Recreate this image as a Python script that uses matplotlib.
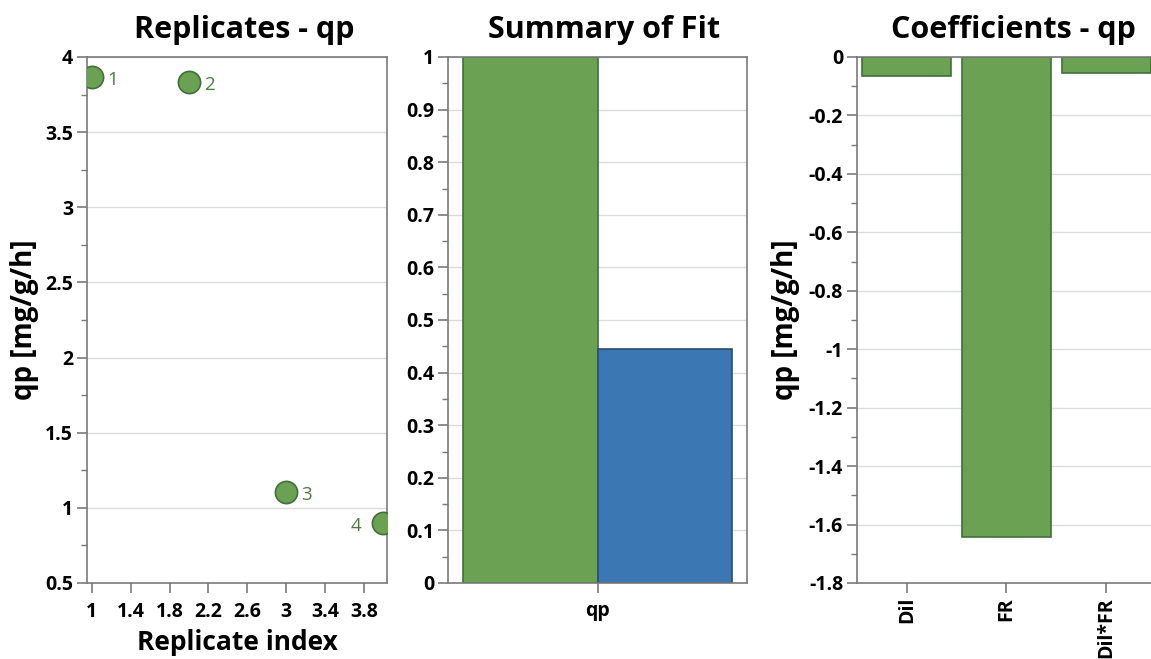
import numpy as np
import matplotlib.pyplot as plt
from matplotlib.ticker import MultipleLocator, FixedLocator, FuncFormatter

plt.rcParams['font.family'] = ['Open Sans', 'DejaVu Sans']

# --- data ---
rep_index = [1, 2, 3, 4]
rep_qp = [3.867, 3.835, 1.107, 0.90]
rep_labels = ['1', '2', '3', '4']

fit_response = ['qp']
fit_r2 = [1.0]
fit_q2 = [0.445]

coef_names = ['Dil', 'FR', 'Dil*FR']
coef_vals = [-0.065, -1.642, -0.055]

green = '#6aa153'
green_edge = '#43703a'
blue = '#3b77b3'
blue_edge = '#2c4f6e'
spine_col = '#7a7a7a'
grid_col = '#dcdcdc'

W, H = 1151, 659
fig = plt.figure(figsize=(W / 100, H / 100), dpi=100)


def box(l, t, r, b):
    return [l / W, 1 - b / H, (r - l) / W, (b - t) / H]


def style(ax):
    for s in ax.spines.values():
        s.set_color(spine_col)
        s.set_linewidth(1.2)
    ax.tick_params(axis='both', which='major', length=7, width=1.2, color=spine_col,
                   labelsize=14, pad=3)
    ax.tick_params(axis='y', which='minor', length=4, width=1, color=spine_col)
    ax.yaxis.grid(True, color=grid_col, linewidth=1)
    ax.set_axisbelow(True)
    for lab in ax.get_xticklabels() + ax.get_yticklabels():
        lab.set_fontweight('bold')


fmt_g = FuncFormatter(lambda v, p: '0' if abs(v) < 1e-9 else f'{round(v, 2):g}')

# --- Replicates ---
ax1 = fig.add_axes(box(87, 57, 387, 583))
ax1.plot(rep_index, rep_qp, 'o', ms=16, color=green, mec=green_edge, mew=1.2, zorder=3)
for i, (x, y, t) in enumerate(zip(rep_index, rep_qp, rep_labels)):
    if i == len(rep_index) - 1:
        ax1.annotate(t, (x, y), xytext=(-16, -2), textcoords='offset points',
                     ha='right', va='center', color='#4e7a40', fontsize=13.5)
    else:
        ax1.annotate(t, (x, y), xytext=(11, -2), textcoords='offset points',
                     ha='left', va='center', color='#4e7a40', fontsize=13.5)
ax1.set_xlim(0.95, 4.04)
ax1.set_ylim(0.5, 4)
ax1.xaxis.set_major_locator(FixedLocator([1, 1.4, 1.8, 2.2, 2.6, 3, 3.4, 3.8]))
ax1.xaxis.set_major_formatter(fmt_g)
ax1.yaxis.set_major_locator(MultipleLocator(0.5))
ax1.yaxis.set_minor_locator(MultipleLocator(0.25))
ax1.yaxis.set_major_formatter(fmt_g)
style(ax1)
ax1.tick_params(axis='x', pad=7)
ax1.set_title('Replicates - qp', fontsize=22, fontweight='bold', pad=14, x=0.523)
ax1.set_xlabel('Replicate index', fontsize=19, fontweight='bold', labelpad=5)
ax1.set_ylabel('qp [mg/g/h]', fontsize=20, fontweight='bold')
ax1.yaxis.set_label_coords(-0.16, 0.5)

# --- Summary of Fit ---
ax2 = fig.add_axes(box(448, 57, 747, 583))
xpos = np.arange(len(fit_response))
ax2.bar(xpos - 0.225, fit_r2, width=0.45, color=green, edgecolor=green_edge, linewidth=1.2)
ax2.bar(xpos + 0.225, fit_q2, width=0.45, color=blue, edgecolor=blue_edge, linewidth=1.2)
ax2.set_xlim(-0.5, 0.5)
ax2.set_ylim(0, 1)
ax2.set_xticks(xpos)
ax2.set_xticklabels(fit_response)
ax2.yaxis.set_major_locator(MultipleLocator(0.1))
ax2.yaxis.set_minor_locator(MultipleLocator(0.05))
ax2.yaxis.set_major_formatter(fmt_g)
style(ax2)
ax2.tick_params(axis='x', labelsize=14, pad=6)
ax2.set_title('Summary of Fit', fontsize=22, fontweight='bold', pad=14, x=0.523)

# --- Coefficients ---
ax3 = fig.add_axes(box(857, 57, 1156, 583))
cpos = np.arange(len(coef_names))
ax3.bar(cpos, coef_vals, width=0.89, color=green, edgecolor=green_edge, linewidth=1.2)
ax3.set_xlim(-0.5, 2.5)
ax3.set_ylim(-1.8, 0)
ax3.set_xticks(cpos)
ax3.set_xticklabels(coef_names, rotation=90)
ax3.yaxis.set_major_locator(MultipleLocator(0.2))
ax3.yaxis.set_minor_locator(MultipleLocator(0.1))
ax3.yaxis.set_major_formatter(fmt_g)
style(ax3)
ax3.tick_params(axis='x', labelsize=14, pad=3)
ax3.set_title('Coefficients - qp', fontsize=22, fontweight='bold', pad=14, x=0.523)
ax3.set_ylabel('qp [mg/g/h]', fontsize=20, fontweight='bold')
ax3.yaxis.set_label_coords(-0.19, 0.5)

fig.savefig('out.png', dpi=100)
